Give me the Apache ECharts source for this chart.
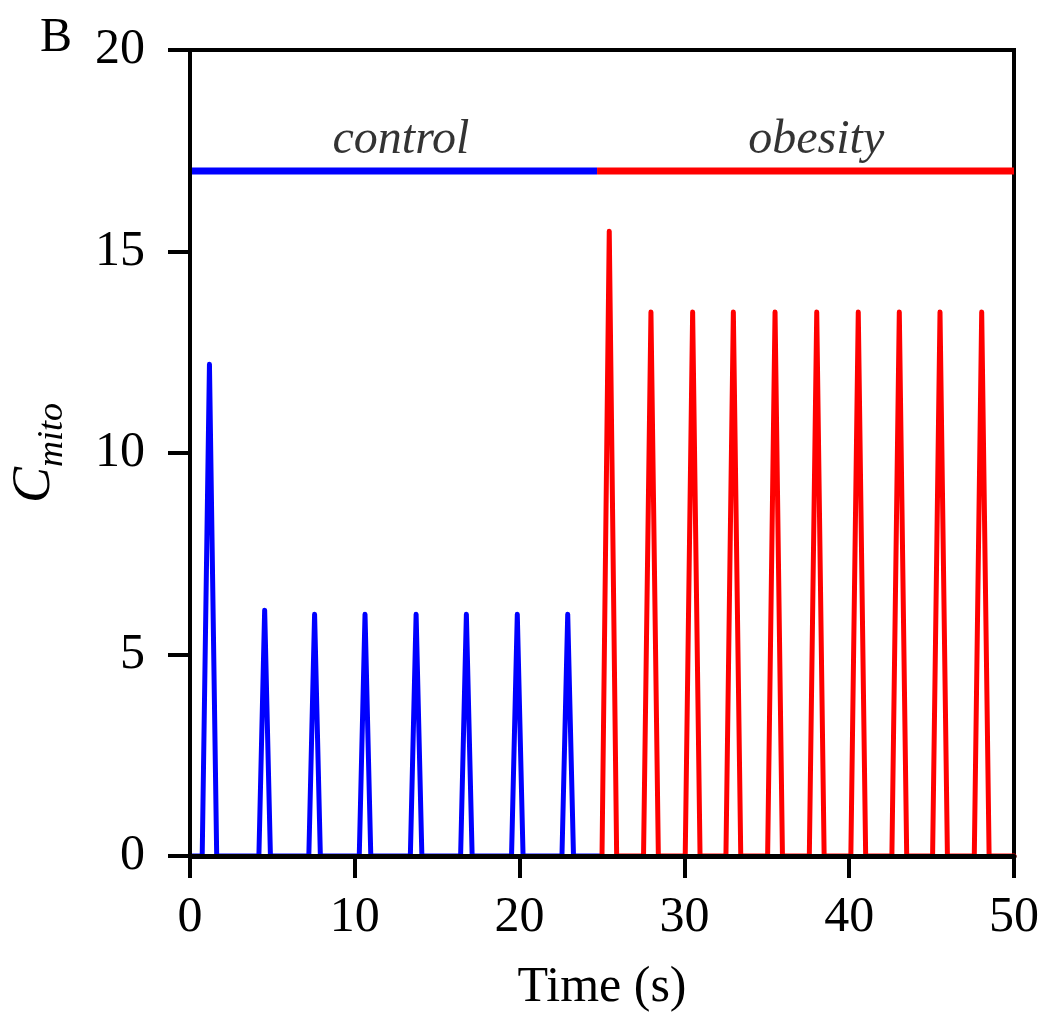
<!DOCTYPE html>
<html>
<head>
<meta charset="utf-8">
<script src="https://cdn.jsdelivr.net/npm/echarts@6/dist/echarts.min.js"></script>
<style>
html,body{margin:0;padding:0;background:#fff;}
#chart{width:1048px;height:1022px;}
</style>
</head>
<body>
<div id="chart"></div>
<script>
// Time (s), C_mito values
const controlTrace = [
  [0,0],[0.74,0],[1.18,12.2],[1.62,0],
  [4.18,0],[4.53,6.1],[4.88,0],
  [7.21,0],[7.56,6.0],[7.91,0],
  [10.27,0],[10.62,6.0],[10.97,0],
  [13.37,0],[13.72,6.0],[14.07,0],
  [16.42,0],[16.77,6.0],[17.12,0],
  [19.51,0],[19.86,6.0],[20.21,0],
  [22.57,0],[22.92,6.0],[23.27,0],
  [25,0]
];
const obesityTrace = [
  [25,0],[25.44,15.5],[25.89,0],
  [27.52,0],[27.97,13.5],[28.42,0],
  [30.05,0],[30.50,13.5],[30.95,0],
  [32.52,0],[32.97,13.5],[33.42,0],
  [35.05,0],[35.50,13.5],[35.95,0],
  [37.58,0],[38.03,13.5],[38.48,0],
  [40.10,0],[40.55,13.5],[41.00,0],
  [42.59,0],[43.04,13.5],[43.49,0],
  [45.06,0],[45.51,13.5],[45.96,0],
  [47.59,0],[48.04,13.5],[48.49,0],
  [50,0]
];
const controlBar = [[0,17],[24.7,17]];
const obesityBar = [[24.7,17],[50,17]];
const groupLabels = ['control','obesity'];
const groupLabelPos = [[12.8,17],[38.0,17]];
const xTicks = [0,10,20,30,40,50];
const yTicks = [0,5,10,15,20];

const BLUE = '#0000ff', RED = '#ff0000';
const FONT = '"Liberation Serif", "Times New Roman", serif';

const chart = echarts.init(document.getElementById('chart'), null, {renderer:'canvas'});
chart.setOption({
  animation: false,
  backgroundColor: '#fff',
  graphic: [{
    type: 'text', left: 40, top: 14, z: 10,
    style: {text: 'B', fontFamily: FONT, fontSize: 48, fill: '#000'}
  }],
  grid: {
    left: 190, right: 34, top: 50, bottom: 166,
    show: true, borderColor: '#000', borderWidth: 4, backgroundColor: 'transparent'
  },
  xAxis: {
    type: 'value', min: xTicks[0], max: xTicks[xTicks.length-1], interval: 10,
    z: 5,
    name: 'Time (s)', nameLocation: 'middle', nameGap: 107,
    nameTextStyle: {fontFamily: FONT, fontSize: 50, color: '#000'},
    axisLine: {show: true, lineStyle: {color: '#000', width: 5}},
    axisTick: {show: true, inside: false, length: 22, lineStyle: {color: '#000', width: 4}},
    axisLabel: {fontFamily: FONT, fontSize: 50, color: '#000', margin: 37},
    splitLine: {show: false}
  },
  yAxis: {
    type: 'value', min: yTicks[0], max: yTicks[yTicks.length-1], interval: 5,
    z: 5,
    name: '{c|C}{s|mito}', nameLocation: 'middle', nameGap: 128, nameRotate: 90,
    nameTextStyle: {
      fontFamily: FONT, color: '#000',
      rich: {
        c: {fontFamily: FONT, fontSize: 54, fontStyle: 'italic', lineHeight: 54, verticalAlign: 'top', color: '#000'},
        s: {fontFamily: FONT, fontSize: 36, fontStyle: 'italic', lineHeight: 36, verticalAlign: 'top', padding: [27,0,0,0], color: '#000'}
      }
    },
    axisLine: {show: true, lineStyle: {color: '#000', width: 4}},
    axisTick: {show: true, inside: false, length: 22, lineStyle: {color: '#000', width: 4}},
    axisLabel: {fontFamily: FONT, fontSize: 50, color: '#000', margin: 45},
    splitLine: {show: false}
  },
  series: [
    {
      type: 'line', data: controlTrace, showSymbol: false, symbol: 'none',
      lineStyle: {color: BLUE, width: 5, join: 'round', cap: 'round'}, z: 2
    },
    {
      type: 'line', data: obesityTrace, showSymbol: false, symbol: 'none',
      lineStyle: {color: RED, width: 5, join: 'round', cap: 'round'}, z: 2
    },
    {
      type: 'line', data: controlBar, showSymbol: false, symbol: 'none',
      lineStyle: {color: BLUE, width: 7}, z: 2
    },
    {
      type: 'line', data: obesityBar, showSymbol: false, symbol: 'none',
      lineStyle: {color: RED, width: 7}, z: 3
    },
    {
      type: 'scatter', symbolSize: 1, itemStyle: {color: 'rgba(0,0,0,0)'},
      data: groupLabelPos.map((p, i) => ({value: p, name: groupLabels[i]})),
      label: {
        show: true, position: 'top', distance: 6, formatter: p => p.name,
        fontFamily: FONT, fontSize: 48, fontStyle: 'italic', color: '#000'
      },
      silent: true, z: 4
    }
  ]
});
</script>
</body>
</html>
